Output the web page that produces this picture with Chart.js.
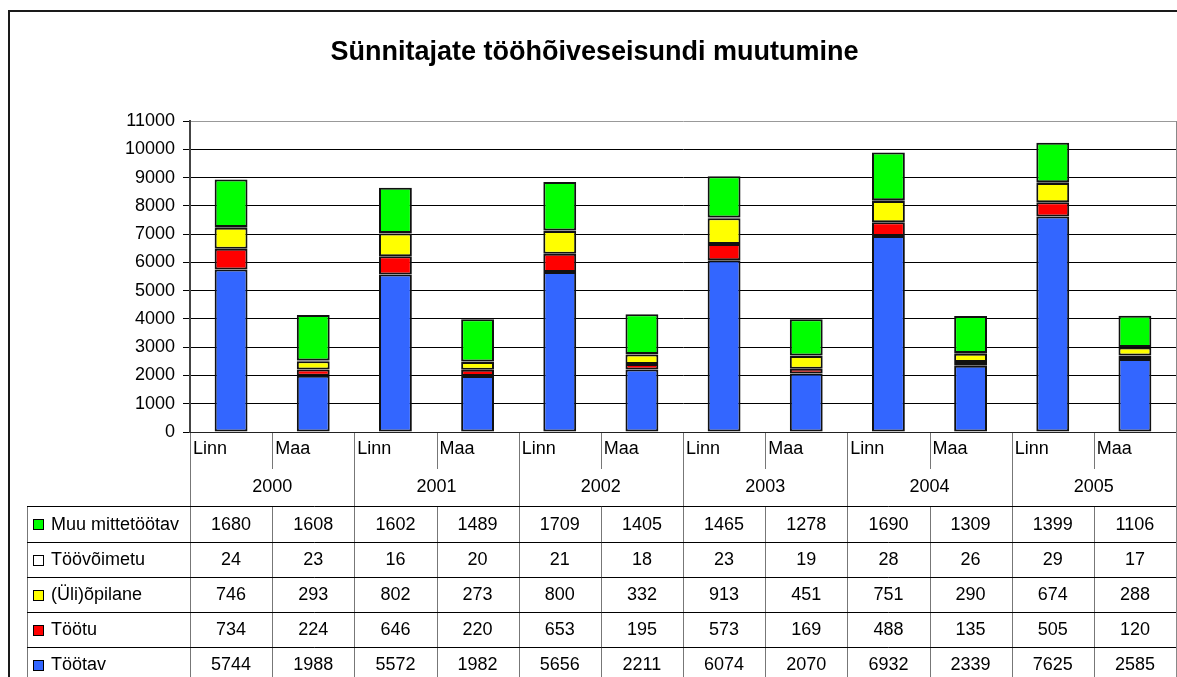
<!DOCTYPE html>
<html>
<head>
<meta charset="utf-8">
<script src="https://cdn.jsdelivr.net/npm/chart.js@4/dist/chart.umd.min.js"></script>
<style>
html,body{margin:0;padding:0;background:#fff;}
#wrap{width:1177px;height:677px;position:relative;}
</style>
</head>
<body>
<div id="wrap"><canvas id="c" width="1177" height="677"></canvas></div>
<script>
const titleText = 'Sünnitajate tööhõiveseisundi muutumine';
const years = ['2000', '2001', '2002', '2003', '2004', '2005'];
const categories = ['Linn', 'Maa', 'Linn', 'Maa', 'Linn', 'Maa', 'Linn', 'Maa', 'Linn', 'Maa', 'Linn', 'Maa'];
const yTicks = [0, 1000, 2000, 3000, 4000, 5000, 6000, 7000, 8000, 9000, 10000, 11000];

const tootav      = [5744, 1988, 5572, 1982, 5656, 2211, 6074, 2070, 6932, 2339, 7625, 2585];
const tootu       = [734, 224, 646, 220, 653, 195, 573, 169, 488, 135, 505, 120];
const opilane     = [746, 293, 802, 273, 800, 332, 913, 451, 751, 290, 674, 288];
const toovoimetu  = [24, 23, 16, 20, 21, 18, 23, 19, 28, 26, 29, 17];
const muu         = [1680, 1608, 1602, 1489, 1709, 1405, 1465, 1278, 1690, 1309, 1399, 1106];

const FONT = "'Liberation Sans', Arial, sans-serif";

const datasets = [
  {label: 'Töötav', data: tootav, backgroundColor: '#3366FF'},
  {label: 'Töötu', data: tootu, backgroundColor: '#FF0000'},
  {label: '(Üli)õpilane', data: opilane, backgroundColor: '#FFFF00'},
  {label: 'Töövõimetu', data: toovoimetu, backgroundColor: '#FFFFFF'},
  {label: 'Muu mittetöötav', data: muu, backgroundColor: '#00FF00'}
].map(d => Object.assign(d, {borderColor: '#111', borderWidth: 2, barPercentage: 0.4, categoryPercentage: 1.0, borderSkipped: false}));

const framePlugin = {
  id: 'frame',
  beforeDraw(chart) {
    const ctx = chart.ctx;
    ctx.save();
    ctx.fillStyle = '#fff';
    ctx.fillRect(0, 0, chart.width, chart.height);
    ctx.strokeStyle = '#1a1a1a';
    ctx.lineWidth = 2;
    ctx.strokeRect(9, 11, chart.width + 20, chart.height + 20);
    ctx.restore();
  }
};

const tablePlugin = {
  id: 'table',
  afterDraw(chart) {
    const ctx = chart.ctx;
    const xs = chart.scales.x;
    const area = chart.chartArea;
    const n = categories.length;
    const w = (xs.right - xs.left) / n;
    const L = area.left, R = area.right, B = area.bottom;
    const r1 = B + 37, r2 = B + 74;
    const rowH = [36, 35, 35, 35, 35];
    const rowTop = [r2];
    for (let i = 1; i <= rowH.length; i++) rowTop.push(rowTop[i - 1] + rowH[i - 1]);
    const legLeft = 27;
    const H = chart.height;
    const px = v => Math.round(v) + 0.5;
    ctx.save();
    ctx.lineWidth = 1;
    ctx.strokeStyle = '#888';
    ctx.beginPath();
    ctx.moveTo(px(R), area.top); ctx.lineTo(px(R), H);
    ctx.stroke();
    ctx.strokeStyle = '#777';
    ctx.beginPath();
    ctx.moveTo(px(L), B); ctx.lineTo(px(L), H);
    for (let k = 1; k < n; k++) {
      const x = px(L + k * w);
      if (k % 2 === 0) {
        ctx.moveTo(x, B); ctx.lineTo(x, H);
      } else {
        ctx.moveTo(x, B); ctx.lineTo(x, r1);
        ctx.moveTo(x, r2); ctx.lineTo(x, H);
      }
    }
    ctx.moveTo(px(legLeft), r2); ctx.lineTo(px(legLeft), H);
    ctx.stroke();
    ctx.strokeStyle = '#000';
    ctx.beginPath();
    for (let i = 0; i < rowH.length; i++) {
      const y = px(rowTop[i]);
      ctx.moveTo(legLeft, y); ctx.lineTo(R, y);
    }
    ctx.stroke();
    ctx.strokeStyle = '#222';
    ctx.beginPath();
    ctx.moveTo(L, px(B)); ctx.lineTo(R, px(B));
    ctx.stroke();
    ctx.fillStyle = '#000';
    ctx.font = '18px ' + FONT;
    ctx.textBaseline = 'middle';
    ctx.textAlign = 'left';
    for (let i = 0; i < n; i++) {
      ctx.fillText(categories[i], L + i * w + 3, B + 17);
    }
    ctx.textAlign = 'center';
    for (let k = 0; k < years.length; k++) {
      ctx.fillText(years[k], L + (2 * k + 1) * w, B + 55);
    }
    const ordered = chart.data.datasets.slice().reverse();
    ordered.forEach((ds, r) => {
      const cy = rowTop[r] + rowH[r] / 2 + 1;
      ctx.fillStyle = ds.backgroundColor;
      ctx.fillRect(33.5, Math.round(cy) - 5.5, 10, 10);
      ctx.strokeStyle = '#000';
      ctx.lineWidth = 1;
      ctx.strokeRect(33.5, Math.round(cy) - 5.5, 10, 10);
      ctx.fillStyle = '#000';
      ctx.textAlign = 'left';
      ctx.fillText(ds.label, 51, cy);
      ctx.textAlign = 'center';
      ds.data.forEach((v, i) => {
        ctx.fillText(String(v), xs.getPixelForValue(i), cy);
      });
    });
    ctx.restore();
  }
};

new Chart(document.getElementById('c'), {
  type: 'bar',
  data: {labels: categories, datasets: datasets},
  plugins: [framePlugin, tablePlugin],
  options: {
    responsive: false,
    animation: false,
    layout: {padding: {left: 13, right: 1, top: 0, bottom: 245}},
    plugins: {
      legend: {display: false},
      tooltip: {enabled: false},
      title: {
        display: true,
        text: titleText,
        color: '#000',
        font: {family: FONT, size: 27, weight: 'bold'},
        padding: {top: 36, bottom: 52.6}
      }
    },
    scales: {
      x: {display: false, stacked: true},
      y: {
        stacked: true,
        min: 0,
        max: 11000,
        afterFit(s) { s.width = 177; },
        afterBuildTicks(s) { s.ticks = yTicks.map(v => ({value: v})); },
        ticks: {color: '#000', font: {family: FONT, size: 18}, padding: 8, callback: v => String(v)},
        grid: {
          color: ctx => (ctx.tick && ctx.tick.value === 11000) ? '#999' : '#000',
          lineWidth: 1,
          tickLength: 7,
          tickColor: '#000'
        },
        border: {display: true, color: '#444', width: 2}
      }
    }
  }
});
</script>
</body>
</html>
